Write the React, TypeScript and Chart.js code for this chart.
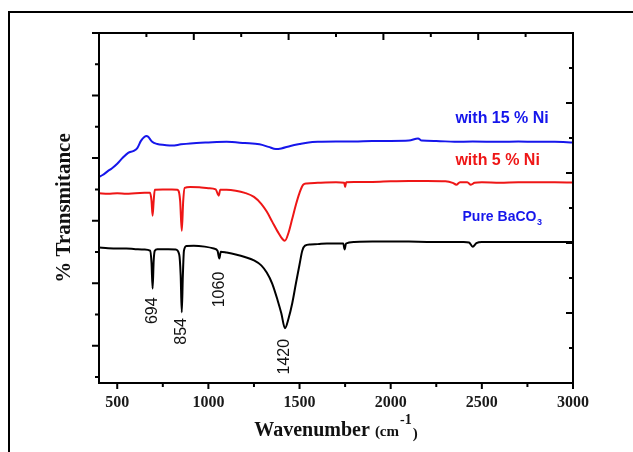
import React, { useEffect, useRef } from 'react';
import { Chart, registerables } from 'chart.js';

Chart.register(...registerables);

// ---- Data (wavenumber in cm^-1, transmittance in arbitrary %) ----
const wnBlack = [400, 450, 500, 550, 600, 650, 680, 688, 694, 700, 706, 720, 780, 820, 840, 848, 854, 860, 866, 880, 920, 980, 1030, 1050, 1060, 1068, 1100, 1150, 1200, 1250, 1290, 1320, 1350, 1380, 1400, 1420, 1440, 1460, 1480, 1500, 1515, 1530, 1560, 1600, 1650, 1700, 1740, 1747, 1755, 1800, 1900, 2000, 2100, 2200, 2300, 2400, 2430, 2450, 2470, 2500, 2600, 2700, 2800, 2900, 3000];
const tBlack = [41.4, 41.2, 41.1, 41.1, 40.9, 40.8, 40.4, 36.6, 28.3, 37.3, 40.4, 40.9, 40.9, 40.8, 39.2, 32.5, 20.7, 32.5, 40.4, 41.9, 42.0, 41.7, 41.1, 40.4, 37.9, 40.1, 39.8, 39.2, 38.4, 37.3, 35.7, 33.4, 29.9, 24.5, 20.4, 15.6, 18.8, 23.6, 29.9, 36.0, 40.4, 42.0, 42.4, 42.5, 42.7, 42.7, 42.7, 40.8, 42.7, 43.2, 43.3, 43.3, 43.3, 43.2, 43.2, 43.2, 43.0, 41.7, 42.8, 43.2, 43.2, 43.2, 43.2, 43.2, 43.2];

const wnRed = [400, 450, 500, 550, 600, 650, 680, 688, 694, 700, 706, 750, 800, 830, 845, 854, 862, 870, 900, 950, 1000, 1040, 1057, 1065, 1100, 1150, 1200, 1250, 1290, 1320, 1350, 1380, 1410, 1420, 1440, 1460, 1480, 1500, 1520, 1540, 1600, 1700, 1745, 1750, 1756, 1800, 1900, 2000, 2100, 2200, 2300, 2340, 2360, 2380, 2420, 2440, 2460, 2500, 2600, 2700, 2800, 2900, 3000];
const tRed = [58.8, 58.6, 58.8, 58.6, 58.8, 58.9, 58.9, 56.4, 51.6, 56.4, 59.9, 60.0, 60.0, 59.9, 56.4, 46.8, 56.4, 60.5, 60.8, 60.7, 60.4, 60.0, 58.0, 59.9, 59.9, 59.6, 58.9, 57.6, 55.4, 52.9, 49.7, 46.5, 43.9, 43.6, 46.2, 50.6, 55.1, 58.9, 61.5, 61.9, 62.1, 62.3, 62.1, 60.8, 62.3, 62.4, 62.4, 62.6, 62.7, 62.7, 62.6, 62.1, 61.5, 62.3, 62.3, 61.5, 62.1, 62.3, 62.1, 62.3, 62.3, 62.3, 62.2];

const wnBlue = [400, 420, 450, 470, 500, 530, 560, 590, 610, 630, 650, 660, 670, 690, 720, 760, 800, 850, 900, 1000, 1100, 1200, 1280, 1330, 1370, 1400, 1450, 1500, 1550, 1600, 1700, 1800, 1900, 2000, 2100, 2150, 2170, 2250, 2350, 2450, 2600, 2700, 2800, 2900, 3000];
const tBlue = [64.0, 64.6, 65.9, 66.7, 68.2, 70.1, 71.7, 72.3, 73.2, 75.5, 76.8, 77.1, 76.8, 75.3, 74.5, 74.2, 74.0, 74.4, 74.7, 75.0, 75.2, 74.8, 74.4, 73.6, 72.9, 73.1, 73.9, 74.5, 75.0, 75.2, 75.3, 75.3, 75.5, 75.5, 75.6, 76.3, 75.6, 75.5, 75.2, 75.3, 75.2, 75.3, 75.2, 75.2, 75.0];

// ---- Axes ----
const xMin = 400;
const xMax = 3000;
const yMin = -1.9;
const yMax = 110;
const xTickLabels = [500, 1000, 1500, 2000, 2500, 3000];
const xTickMarks = [500, 750, 1000, 1250, 1500, 1750, 2000, 2250, 2500, 2750, 3000];
const yTickMarks = [0, 10, 20, 30, 40, 50, 60, 70, 80, 90, 100, 110];
const frameDivisions = [1, 2, 3, 4, 5, 6, 7, 8, 9];

// ---- Annotations ----
const peakLabels = ['694', '854', '1060', '1420'];
const peakWn = [694, 854, 1060, 1420];
const peakLabelY = [21.2, 14.6, 28.0, 6.5];

const seriesNames = ['with 15 % Ni', 'with 5 % Ni', 'Pure BaCO'];
const seriesLabelWn = [2355, 2355, 2394];
const seriesLabelY = [82.5, 69.1, 51.0];

const BLUE = 'rgb(22,22,235)';
const RED = 'rgb(238,22,22)';
const BLACK = '#000000';

const toPts = (xs: number[], ys: number[]) => xs.map((x, i) => ({ x, y: ys[i] }));

const decorPlugin = {
  id: 'decor',
  afterDatasetsDraw(chart: any) {
    const { ctx, chartArea } = chart;
    const { left, right, top, bottom } = chartArea;
    const xs = chart.scales.x;
    const ys = chart.scales.y;
    const x2 = chart.scales.x2;
    const y2 = chart.scales.y2;
    ctx.save();
    ctx.strokeStyle = '#000';
    ctx.lineWidth = 2;
    ctx.lineCap = 'butt';
    // frame
    ctx.strokeRect(left, top, right - left, bottom - top);
    ctx.beginPath();
    // bottom ticks (outward)
    xTickMarks.forEach((v) => {
      const px = xs.getPixelForValue(v);
      const len = v % 500 === 0 ? 6 : 4;
      ctx.moveTo(px, bottom);
      ctx.lineTo(px, bottom + len);
    });
    // left ticks (outward)
    yTickMarks.forEach((v) => {
      const py = ys.getPixelForValue(v);
      const len = (v / 10) % 2 === 1 ? 7 : 4;
      ctx.moveTo(left, py);
      ctx.lineTo(left - len, py);
    });
    // top ticks (inward)
    frameDivisions.forEach((v) => {
      const px = x2.getPixelForValue(v);
      const len = v % 2 === 0 ? 7 : 4;
      ctx.moveTo(px, top);
      ctx.lineTo(px, top + len);
    });
    // right ticks (inward)
    frameDivisions.forEach((v) => {
      const py = y2.getPixelForValue(v);
      const len = v % 2 === 0 ? 7 : 4;
      ctx.moveTo(right, py);
      ctx.lineTo(right - len, py);
    });
    ctx.stroke();

    // outer figure border
    ctx.lineWidth = 2;
    ctx.strokeRect(9, 12, 660, 480);

    // y title
    ctx.fillStyle = '#111';
    ctx.font = 'bold 21px "Liberation Serif", "Times New Roman", serif';
    ctx.textAlign = 'center';
    ctx.textBaseline = 'middle';
    ctx.save();
    ctx.translate(65, (top + bottom) / 2);
    ctx.rotate(-Math.PI / 2);
    ctx.fillText('% Transmitance', 0, 0);
    ctx.restore();

    // x title with superscript
    const f1 = 'bold 20px "Liberation Serif", "Times New Roman", serif';
    const f2 = 'bold 15px "Liberation Serif", "Times New Roman", serif';
    const f3 = 'bold 14px "Liberation Serif", "Times New Roman", serif';
    const p1 = 'Wavenumber ';
    const p2 = '(cm';
    const p3 = '-1';
    const p4 = ')';
    ctx.font = f1; const w1 = ctx.measureText(p1).width;
    ctx.font = f2; const w2 = ctx.measureText(p2).width;
    ctx.font = f3; const w3 = ctx.measureText(p3).width;
    ctx.font = f2; const w4 = ctx.measureText(p4).width;
    const total = w1 + w2 + w3 + 2 + w4;
    let tx = (left + right) / 2 - total / 2;
    const base = 436;
    ctx.textAlign = 'left';
    ctx.textBaseline = 'alphabetic';
    ctx.font = f1; ctx.fillText(p1, tx, base); tx += w1;
    ctx.font = f2; ctx.fillText(p2, tx, base); tx += w2;
    ctx.font = f3; ctx.fillText(p3, tx + 1, base - 12); tx += w3 + 2;
    ctx.font = f2; ctx.fillText(p4, tx, base + 2);

    // peak labels (rotated)
    ctx.fillStyle = '#111';
    ctx.font = '16px "Liberation Sans", Arial, sans-serif';
    ctx.textAlign = 'center';
    ctx.textBaseline = 'middle';
    peakLabels.forEach((lab, i) => {
      const px = xs.getPixelForValue(peakWn[i]);
      const py = ys.getPixelForValue(peakLabelY[i]);
      ctx.save();
      ctx.translate(px, py);
      ctx.rotate(-Math.PI / 2);
      ctx.fillText(lab, 0, 0);
      ctx.restore();
    });

    // series labels
    ctx.textAlign = 'left';
    ctx.textBaseline = 'middle';
    const colors = [BLUE, RED, BLUE];
    seriesNames.forEach((name, i) => {
      const px = xs.getPixelForValue(seriesLabelWn[i]);
      const py = ys.getPixelForValue(seriesLabelY[i]);
      ctx.fillStyle = colors[i];
      if (i < 2) {
        ctx.font = 'bold 16px "Liberation Sans", Arial, sans-serif';
        ctx.fillText(name, px, py);
      } else {
        ctx.font = 'bold 14px "Liberation Sans", Arial, sans-serif';
        ctx.fillText(name, px, py);
        const w = ctx.measureText(name).width;
        ctx.font = 'bold 9px "Liberation Sans", Arial, sans-serif';
        ctx.fillText('3', px + w + 0.5, py + 5);
      }
    });
    ctx.restore();
  },
};

export default function App() {
  const ref = useRef<HTMLCanvasElement | null>(null);
  useEffect(() => {
    if (!ref.current) return;
    const chart = new Chart(ref.current, {
      type: 'line',
      data: {
        datasets: [
          { label: 'with 15 % Ni', data: toPts(wnBlue, tBlue), borderColor: BLUE, borderWidth: 2, pointRadius: 0, fill: false, cubicInterpolationMode: 'monotone' },
          { label: 'with 5 % Ni', data: toPts(wnRed, tRed), borderColor: RED, borderWidth: 2, pointRadius: 0, fill: false, cubicInterpolationMode: 'monotone' },
          { label: 'Pure BaCO3', data: toPts(wnBlack, tBlack), borderColor: BLACK, borderWidth: 2, pointRadius: 0, fill: false, cubicInterpolationMode: 'monotone' },
        ],
      },
      options: {
        responsive: false,
        animation: false,
        devicePixelRatio: 1,
        layout: { padding: { left: 99, right: 60, top: 33, bottom: 0 } },
        plugins: { legend: { display: false }, tooltip: { enabled: false } },
        scales: {
          x: {
            type: 'linear',
            position: 'bottom',
            min: xMin,
            max: xMax,
            afterBuildTicks: (sc: any) => { sc.ticks = xTickLabels.map((v) => ({ value: v })); },
            afterFit: (sc: any) => { sc.height = 69; },
            ticks: {
              autoSkip: false,
              maxRotation: 0,
              padding: 10,
              color: '#1a1a1a',
              font: { family: '"Liberation Serif", "Times New Roman", serif', weight: 'bold', size: 16 },
              callback: (v: any) => String(v),
            },
            grid: { display: false, drawTicks: false },
            border: { display: false },
          },
          y: { type: 'linear', min: yMin, max: yMax, display: false },
          x2: { type: 'linear', axis: 'x', position: 'top', min: 0, max: 10, display: false },
          y2: { type: 'linear', axis: 'y', position: 'right', min: 0, max: 10, display: false },
        },
      } as any,
      plugins: [decorPlugin],
    });
    return () => chart.destroy();
  }, []);
  return (
    <div style={{ position: 'fixed', left: 0, top: 0, width: 633, height: 452, background: '#fff' }}>
      <canvas ref={ref} width={633} height={452} style={{ display: 'block' }} />
    </div>
  );
}
